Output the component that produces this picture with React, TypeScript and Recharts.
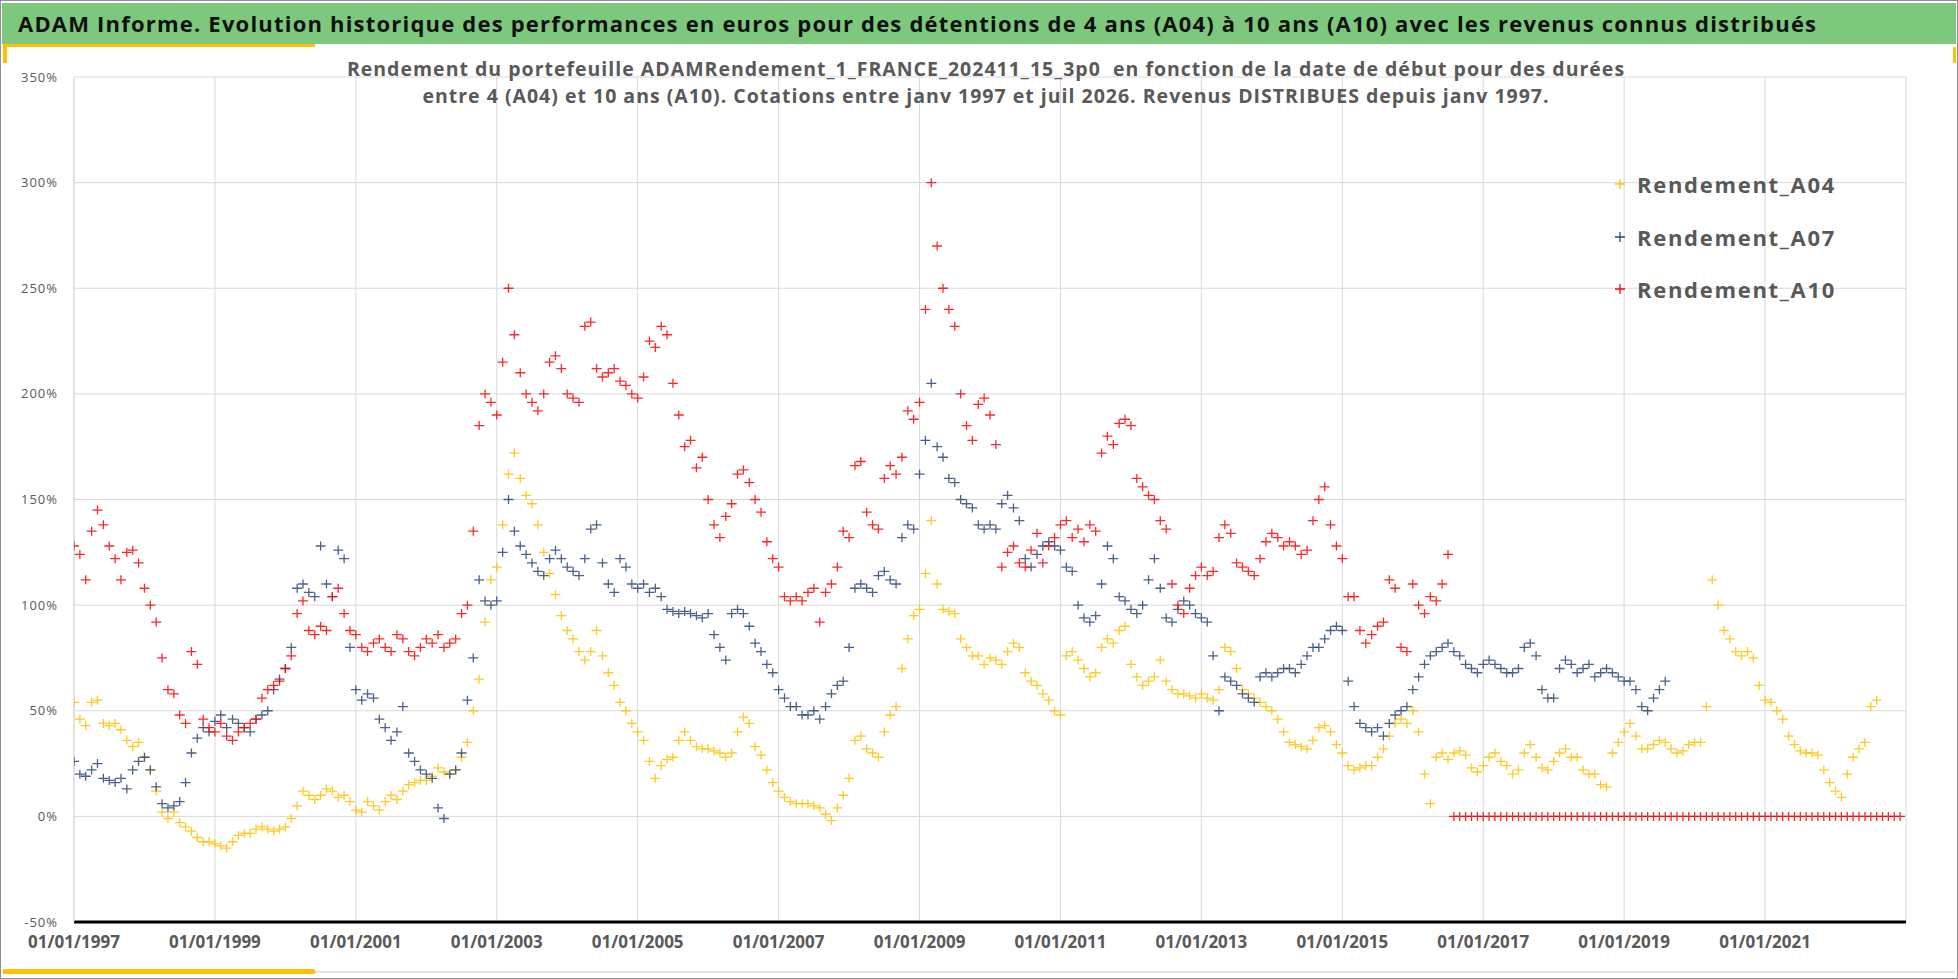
import { ScatterChart, Scatter, XAxis, YAxis, CartesianGrid } from "recharts"

const FIRST_YEAR = 1997
const xTicks = [1997, 1999, 2001, 2003, 2005, 2007, 2009, 2011, 2013, 2015, 2017, 2019, 2021]
const yTicks = [-50, 0, 50, 100, 150, 200, 250, 300, 350]

// one reading per month, first value = janv 1997
const a04 = [
  54, 46, 43, 54, 55, 44, 43, 44, 41, 36, 33, 35,
  28, 22, 12, 2, -1, 2, -3, -5, -7, -10, -12, -12,
  -13, -14, -15, -12, -9, -8, -8, -6, -5, -6, -7, -6,
  -5, -1, 5, 12, 10, 8, 10, 13, 12, 9, 10, 7,
  3, 2, 7, 5, 3, 7, 10, 8, 12, 15, 16, 17,
  17, 19, 23, 21, 20, 22, 28, 35, 50, 65, 92, 112,
  118, 138, 162, 172, 160, 152, 148, 138, 125, 115, 105, 95,
  88, 84, 78, 74, 78, 88, 76, 68, 62, 54, 50, 44,
  40, 36, 26, 18, 24, 27, 28, 36, 40, 36, 33, 32,
  32, 31, 30, 28, 30, 40, 47, 44, 33, 29, 22, 16,
  12, 9, 7, 6, 6, 6, 5, 4, 1, -2, 4, 10,
  18, 36, 38, 32, 30, 28, 40, 48, 52, 70, 84, 95,
  98, 115, 140, 110, 98, 97, 96, 84, 80, 76, 76, 72,
  75, 74, 72, 78, 82, 80, 68, 64, 62, 58, 55, 50,
  48, 76, 78, 74, 70, 66, 68, 80, 84, 82, 88, 90,
  72, 66, 62, 64, 66, 74, 64, 60, 58, 58, 57, 56,
  58, 56, 55, 60, 80, 78, 70, 60, 58, 56, 54, 52,
  50, 46, 40, 35, 34, 33, 32, 36, 42, 43, 40, 34,
  30, 24, 22, 23, 24, 24, 28, 32, 38, 44, 46, 44,
  50, 40, 20, 6, 28, 30, 27, 30, 31, 29, 23, 21,
  24, 28, 30, 26, 24, 20, 22, 30, 34, 28, 23, 22,
  26, 30, 32, 28, 28, 22, 20, 20, 15, 14, 30, 35,
  40, 44, 38, 32, 32, 34, 36, 35, 32, 30, 31, 34,
  35, 35, 52, 112, 100, 88, 84, 78, 76, 78, 75, 62,
  55, 54, 50, 46, 38, 34, 31, 30, 30, 29, 22, 16,
  12, 9, 20, 28, 32, 35, 52, 55,
]

const a07 = [
  26, 20, 19, 22, 25, 18, 17, 16, 18, 13, 22, 26,
  28, 22, 14, 6, 4, 5, 7, 16, 30, 37, 42, 40,
  45, 48, 42, 46, 44, 42, 40, 46, 48, 50, 60, 65,
  70, 80, 108, 110, 106, 104, 128, 110, 104, 126, 122, 80,
  60, 55, 58, 56, 46, 42, 36, 40, 52, 30, 26, 22,
  20, 18, 4, -1, 20, 22, 30, 55, 75, 112, 102, 100,
  102, 125, 150, 135, 128, 124, 120, 116, 114, 122, 126, 122,
  118, 116, 114, 122, 136, 138, 120, 110, 106, 122, 118, 110,
  108, 110, 106, 108, 104, 98, 97, 96, 97, 96, 95, 94,
  96, 86, 80, 74, 96, 98, 96, 90, 82, 78, 72, 68,
  60, 56, 52, 52, 48, 48, 50, 46, 52, 58, 62, 64,
  80, 108, 110, 108, 106, 114, 116, 112, 110, 132, 138, 136,
  162, 178, 205, 175, 170, 160, 158, 150, 148, 146, 138, 136,
  138, 136, 148, 152, 146, 140, 122, 118, 124, 128, 130, 128,
  126, 118, 116, 100, 94, 92, 95, 110, 128, 122, 104, 102,
  98, 96, 100, 112, 122, 108, 94, 92, 98, 102, 100, 96,
  94, 92, 76, 50, 66, 64, 62, 58, 56, 54, 66, 68,
  66, 68, 70, 70, 68, 72, 76, 80, 80, 84, 88, 90,
  88, 64, 52, 44, 42, 40, 42, 38, 44, 48, 50, 52,
  60, 66, 72, 76, 78, 80, 82, 78, 76, 72, 70, 68,
  72, 74, 72, 70, 68, 68, 70, 80, 82, 76, 60, 56,
  56, 70, 74, 72, 68, 70, 72, 66, 68, 70, 68, 66,
  64, 64, 60, 52, 50, 56, 60, 64,
]

const a10 = [
  128, 124, 112, 135, 145, 138, 128, 122, 112, 125, 126, 120,
  108, 100, 92, 75, 60, 58, 48, 44, 78, 72, 46, 42,
  40, 44, 38, 36, 40, 42, 44, 46, 56, 60, 62, 64,
  70, 76, 96, 102, 88, 86, 90, 88, 104, 108, 96, 88,
  86, 80, 78, 82, 84, 80, 78, 86, 84, 78, 76, 80,
  84, 82, 86, 80, 82, 84, 96, 100, 135, 185, 200, 196,
  190, 215, 250, 228, 210, 200, 196, 192, 200, 215, 218, 212,
  200, 198, 196, 232, 234, 212, 208, 210, 212, 206, 204, 200,
  198, 208, 225, 222, 232, 228, 205, 190, 175, 178, 165, 170,
  150, 138, 132, 142, 148, 162, 164, 158, 150, 144, 130, 122,
  118, 104, 102, 104, 102, 106, 108, 92, 106, 110, 118, 135,
  132, 166, 168, 144, 138, 136, 160, 166, 162, 170, 192, 188,
  196, 240, 300, 270, 250, 240, 232, 200, 185, 178, 195, 198,
  190, 176, 118, 125, 128, 120, 118, 126, 134, 120, 128, 132,
  138, 140, 132, 136, 130, 138, 135, 172, 180, 176, 186, 188,
  185, 160, 156, 152, 150, 140, 136, 110, 100, 96, 108, 114,
  118, 114, 116, 132, 138, 134, 120, 118, 116, 114, 122, 130,
  134, 132, 128, 130, 128, 124, 126, 140, 150, 156, 138, 128,
  122, 104, 104, 88, 82, 86, 90, 92, 112, 108, 80, 78,
  110, 100, 96, 104, 102, 110, 124,
]

// août 2016 -> déc 2022 : A10 reported as 0
const a10Tail = [
  0, 0, 0, 0, 0,
  0, 0, 0, 0, 0, 0, 0, 0, 0, 0, 0, 0,
  0, 0, 0, 0, 0, 0, 0, 0, 0, 0, 0, 0,
  0, 0, 0, 0, 0, 0, 0, 0, 0, 0, 0, 0,
  0, 0, 0, 0, 0, 0, 0, 0, 0, 0, 0, 0,
  0, 0, 0, 0, 0, 0, 0, 0, 0, 0, 0, 0,
  0, 0, 0, 0, 0, 0, 0, 0, 0, 0, 0, 0,
]

const toPoints = (values: number[]) =>
  values.map((v, i) => ({ x: FIRST_YEAR + i / 12, y: v }))

const series = [
  { name: "Rendement_A04", color: "#FFC000", data: toPoints(a04) },
  { name: "Rendement_A07", color: "#2B4576", data: toPoints(a07) },
  { name: "Rendement_A10", color: "#FF0000", data: toPoints([...a10, ...a10Tail]) },
]

const FONT = "'Open Sans', 'DejaVu Sans', sans-serif"
const GREY = "#595959"

const cross = (color: string) => (props: any) => {
  const { cx, cy } = props
  if (cx == null || cy == null) return <g />
  return (
    <path
      d={`M${cx - 5},${cy}H${cx + 5}M${cx},${cy - 4.5}V${cy + 4.5}`}
      stroke={color}
      strokeWidth={1.3}
      strokeOpacity={0.85}
      fill="none"
    />
  )
}

function LegendBox() {
  return (
    <div style={{ position: "absolute", left: 1612, top: 158, fontFamily: FONT }}>
      {series.map((s) => (
        <div key={s.name} style={{ display: "flex", alignItems: "center", height: 52.5 }}>
          <svg width={16} height={16} style={{ marginRight: 9 }}>
            <path d="M3,8H13M8,3V13" stroke={s.color} strokeWidth={1.3} />
          </svg>
          <span style={{ fontSize: 22, fontWeight: 700, color: GREY, letterSpacing: 1.7 }}>{s.name}</span>
        </div>
      ))}
    </div>
  )
}

const subStyle = {
  position: "absolute" as const, left: 186, width: 1600, textAlign: "center" as const,
  fontSize: 19.5, fontWeight: 700, color: GREY, lineHeight: "27px", letterSpacing: 1, whiteSpace: "pre" as const,
}

export default function App() {
  return (
    <div style={{ position: "absolute", left: 0, top: 0, width: 1958, height: 979, background: "#fff", fontFamily: FONT, overflow: "hidden" }}>
      <div style={{ position: "absolute", left: 0, top: 0, width: 1956, height: 977, border: "1px solid #8f8f8f" }} />
      <div
        style={{
          position: "absolute", left: 2, top: 3, width: 1954, height: 41, background: "#7DC87D",
          fontSize: 22, fontWeight: 700, color: "#111", lineHeight: "40px", paddingLeft: 16, boxSizing: "border-box",
          whiteSpace: "nowrap", letterSpacing: 1.2,
        }}
      >
        ADAM Informe. Evolution historique des performances en euros pour des détentions de 4 ans (A04) à 10 ans (A10) avec les revenus connus distribués
      </div>
      <div style={{ position: "absolute", left: 3, top: 44, width: 312, height: 3, background: "#FFC000" }} />
      <div style={{ position: "absolute", left: 3, top: 44, width: 4, height: 19, background: "#FFC000" }} />
      <div style={{ position: "absolute", left: 1953, top: 47, width: 3, height: 16, background: "#FFC000" }} />
      <div style={{ position: "absolute", left: 315, top: 971, width: 1640, height: 2, background: "#e3e3e3" }} />
      <div style={{ position: "absolute", left: 3, top: 969, width: 312, height: 5, background: "#FFC000" }} />

      <div style={{ position: "absolute", left: 0, top: 0 }}>
        <ScatterChart width={1958} height={979} margin={{ top: 77, right: 52, bottom: 17, left: 14 }}>
          <CartesianGrid stroke="#d9d9d9" strokeWidth={1} />
          <XAxis
            type="number"
            dataKey="x"
            domain={[1997, 2023]}
            ticks={xTicks}
            allowDataOverflow
            height={40}
            tickLine={false}
            tickMargin={8}
            axisLine={{ stroke: "#000", strokeWidth: 3 }}
            tickFormatter={(v: number) => `01/01/${v}`}
            tick={{ fill: GREY, fontSize: 17, fontWeight: 700, fontFamily: FONT }}
          />
          <YAxis
            type="number"
            dataKey="y"
            domain={[-50, 350]}
            ticks={yTicks}
            allowDataOverflow
            width={60}
            tickLine={false}
            tickMargin={10}
            axisLine={{ stroke: "#d9d9d9" }}
            tickFormatter={(v: number) => `${v}%`}
            tick={{ fill: GREY, fontSize: 13, fontFamily: FONT, letterSpacing: 1 }}
          />
          {series.map((s) => (
            <Scatter key={s.name} name={s.name} data={s.data} shape={cross(s.color)} isAnimationActive={false} />
          ))}
        </ScatterChart>
      </div>

      <LegendBox />

      <div style={{ ...subStyle, top: 55 }}>
        {"Rendement du portefeuille ADAMRendement_1_FRANCE_202411_15_3p0  en fonction de la date de début pour des durées"}
      </div>
      <div style={{ ...subStyle, top: 82 }}>
        {"entre 4 (A04) et 10 ans (A10). Cotations entre janv 1997 et juil 2026. Revenus DISTRIBUES depuis janv 1997."}
      </div>
    </div>
  )
}
